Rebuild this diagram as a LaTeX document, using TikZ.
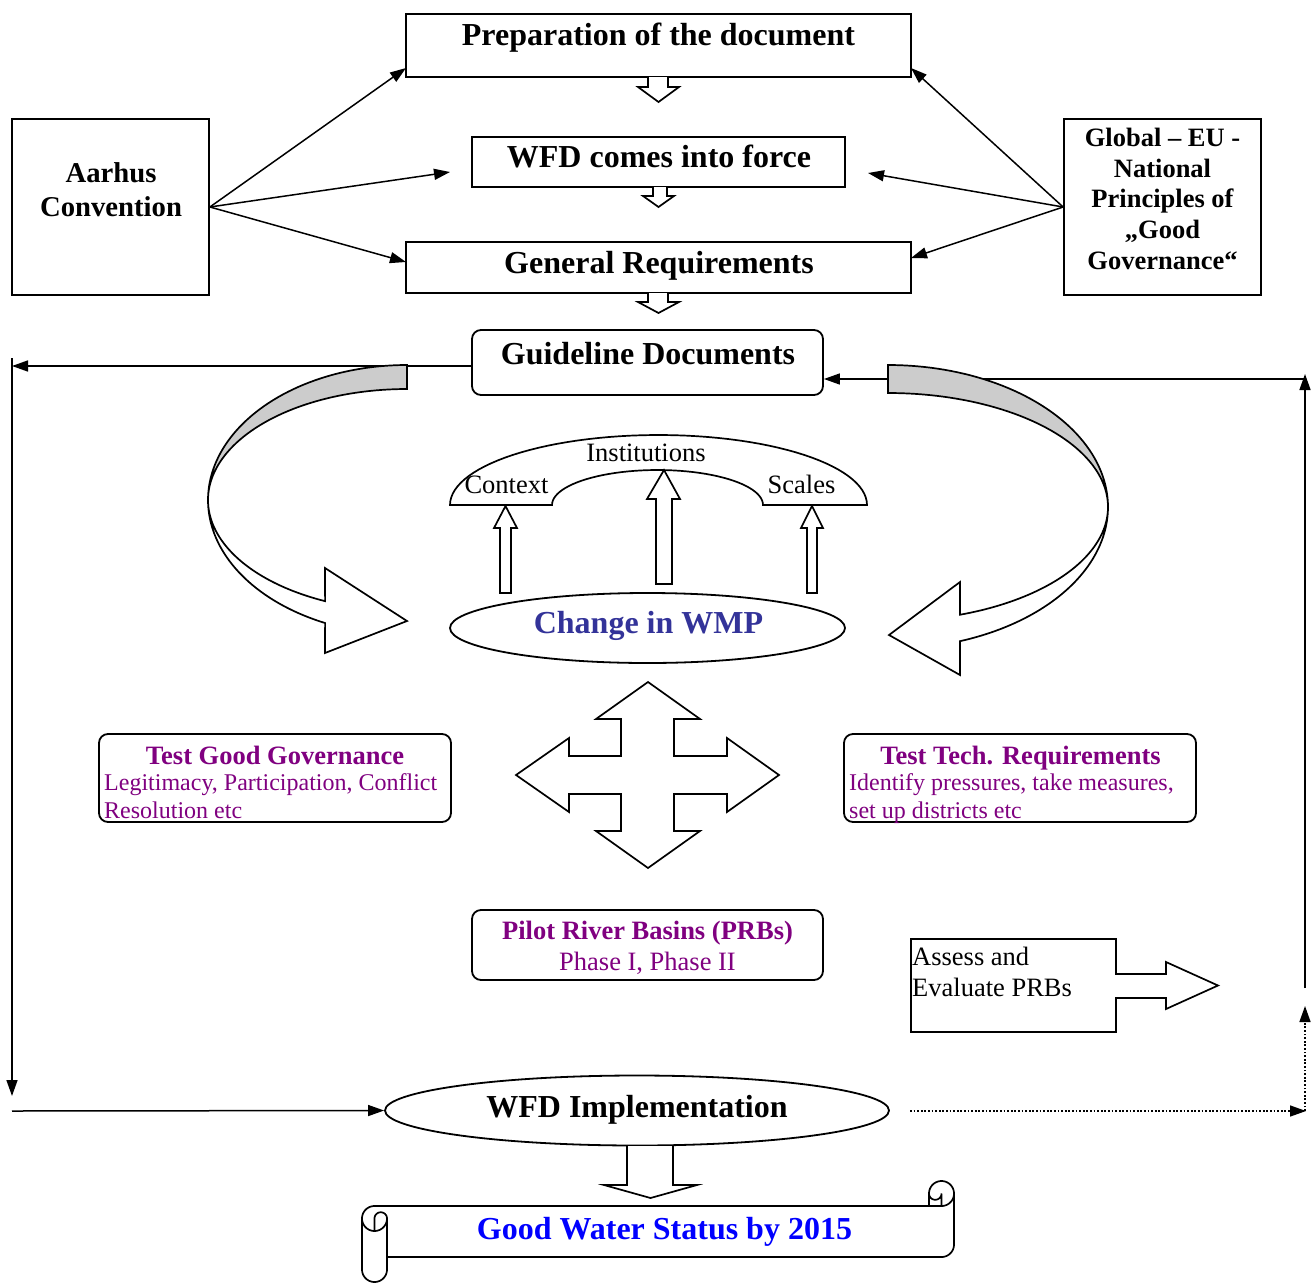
\documentclass[tikz,border=0pt]{standalone}
\usepackage{fontspec}
\setmainfont{Liberation Serif}
\usetikzlibrary{arrows.meta,shapes.geometric}
\definecolor{pur}{RGB}{128,0,128}
\definecolor{wmpblue}{RGB}{51,51,153}
\definecolor{gwblue}{RGB}{0,0,255}
\definecolor{bandgray}{RGB}{204,204,204}
\newcommand\fXL{\fontsize{32}{38}\selectfont\bfseries}
\newcommand\fAa{\fontsize{28.7}{34}\selectfont\bfseries}
\newcommand\fMB{\fontsize{26.5}{31}\selectfont\bfseries}
\newcommand\fMR{\fontsize{26.5}{31}\selectfont}
\newcommand\fSR{\fontsize{24}{28}\selectfont}
\tikzset{
  box/.style={draw, line width=1.8pt, rectangle, inner sep=0pt, fill=white},
  rbox/.style={box, rounded corners=9pt},
  oval/.style={draw, line width=1.8pt, ellipse, inner sep=0pt, fill=white},
  txt/.style={anchor=base, inner sep=0pt},
  ltxt/.style={anchor=base west, inner sep=0pt},
  arr/.style={line width=1.5pt, -{Triangle[length=16pt,width=11pt]}},
  dotarr/.style={arr, dash pattern=on 1.8pt off 1.8pt},
  blk/.style={draw, line width=1.7pt, fill=white, line join=miter},
  parc/.style n args={5}{insert path={-- plot[domain=#4:#5,samples=24,variable=\t] ({#1+#3*cos(\t)},{#2+#3*sin(\t)})}},
}
\begin{document}
\begin{tikzpicture}[x=1pt,y=-1pt]
\useasboundingbox (0,0) rectangle (1314,1282);

% ---------- main boxes ----------
\node[box, minimum width=505pt, minimum height=63pt] (prep) at (658.5,45.5) {};
\node[txt] (prept) at (658.5,45) {\fXL Preparation of the document};
\node[box, minimum width=373pt, minimum height=50pt] (wfd) at (658.5,162) {};
\node[txt] (wfdt) at (659,167) {\fXL WFD comes into force};
\node[box, minimum width=505pt, minimum height=51pt] (gen) at (658.5,267.5) {};
\node[txt] (gent) at (659,273) {\fXL General Requirements};
\node[rbox, minimum width=351pt, minimum height=65pt] (guide) at (647.5,362.5) {};
\node[txt] (guidet) at (648,364) {\fXL Guideline Documents};

\node[box, minimum width=197pt, minimum height=176pt] (aar) at (110.5,207) {};
\node[txt] (aart1) at (111,182) {\fAa Aarhus};
\node[txt] (aart2) at (111,216) {\fAa Convention};

\node[box, minimum width=197pt, minimum height=176pt] (glob) at (1162.5,207) {};
\node[txt] (g1) at (1162.5,146) {\fMB Global – EU -};
\node[txt] (g2) at (1162.5,177) {\fMB National};
\node[txt] (g3) at (1162.5,207) {\fMB Principles of};
\node[txt] (g4) at (1162.5,238) {\fMB „Good};
\node[txt] (g5) at (1162.5,269) {\fMB Governance“};

% ---------- feedback lines ----------
\coordinate (lt) at (12,366);
\coordinate (ltop) at (12,358);
\coordinate (lbot) at (12,1096);
\coordinate (lb) at (12,1111);
\coordinate (rb) at (1305,988);
\coordinate (rt) at (1305,374);
\coordinate (rh) at (1305,379);
\coordinate (dl) at (910,1111);
\coordinate (dr) at (1306,1111);
\coordinate (dc) at (1305,1111);
\coordinate (du) at (1305,1006);

\node[oval, minimum width=504pt, minimum height=70pt] (impl) at (637,1110.5) {};
\node[txt] (implt) at (637,1117) {\fXL WFD Implementation};

\draw[arr] ([yshift=-3.5pt]guide.west) -- (lt);
\draw[arr] (ltop) -- (lbot);
\draw[arr] (lb) -- (impl.west);
\draw[arr] (rb) -- (rt);
\draw[arr] (rh) -- ([yshift=-16.5pt]guide.east);
\draw[dotarr] (dl) -- (dr);
\draw[dotarr] (dc) -- (du);

% ---------- curved arrows ----------
\path[blk, fill=bandgray] plot[domain=270:180,samples=50,variable=\t] ({407+199*cos(\t)},{500+135*sin(\t)})
  -- plot[domain=180:270,samples=50,variable=\t] ({407+199*cos(\t)},{500+111*sin(\t)}) -- cycle;
\path[blk] plot[domain=180:114.3,samples=50,variable=\t] ({407+199*cos(\t)},{500+135*sin(\t)})
  -- (325,653) -- (407,621) -- (325,568)
  -- plot[domain=114.3:180,samples=50,variable=\t] ({407+199*cos(\t)},{500+111*sin(\t)}) -- cycle;

\path[blk, fill=bandgray] plot[domain=270:360,samples=50,variable=\t] ({888+220*cos(\t)},{507+142*sin(\t)})
  -- plot[domain=360:270,samples=50,variable=\t] ({888+220*cos(\t)},{507+114*sin(\t)}) -- cycle;
\path[blk] plot[domain=0:70.9,samples=50,variable=\t] ({888+220*cos(\t)},{507+142*sin(\t)})
  -- (960,675) -- (889,635) -- (960,582)
  -- plot[domain=70.9:0,samples=50,variable=\t] ({888+220*cos(\t)},{507+114*sin(\t)}) -- cycle;

% ---------- arch ----------
\path[blk] (450,505) -- plot[domain=180:360,samples=60,variable=\t] ({658.5+208.5*cos(\t)},{505+70*sin(\t)})
  -- (763,505) -- plot[domain=360:180,samples=50,variable=\t] ({657.5+105.5*cos(\t)},{505+35*sin(\t)}) -- cycle;
\node[txt] (inst) at (646,461) {\fMR Institutions};
\node[txt] (ctx) at (506.5,493) {\fMR Context};
\node[txt] (scl) at (801.5,493) {\fMR Scales};

\path[blk] (500,593) -- (500,528) -- (494,528) -- (505.5,506) -- (517,528) -- (511,528) -- (511,593) -- cycle;
\path[blk] (656,584) -- (656,499) -- (647,499) -- (664,470) -- (680,499) -- (672,499) -- (672,584) -- cycle;
\path[blk] (807,593) -- (807,528) -- (801,528) -- (812,506) -- (823,528) -- (817,528) -- (817,593) -- cycle;

\node[oval, minimum width=395pt, minimum height=70pt] (wmp) at (647.5,628) {};
\node[txt, text=wmpblue] (wmpt) at (648.5,633) {\fXL Change in WMP};

% ---------- four-way arrow ----------
\path[blk] (648,682) -- (700,719) -- (674,719) -- (674,756) -- (727,756) -- (727,738) -- (779,775)
  -- (727,812) -- (727,794) -- (674,794) -- (674,831) -- (700,831) -- (648,868) -- (596,831)
  -- (621,831) -- (621,794) -- (569,794) -- (569,812) -- (516,775) -- (569,738) -- (569,756)
  -- (621,756) -- (621,719) -- (596,719) -- cycle;

% ---------- test boxes ----------
\node[rbox, minimum width=352pt, minimum height=88pt] (tgg) at (275,778) {};
\node[txt, text=pur] (tggt) at (275,764) {\fMB Test Good Governance};
\node[ltxt, text=pur] (tgg1) at (104,790) {\fSR Legitimacy, Participation, Conflict};
\node[ltxt, text=pur] (tgg2) at (104,818) {\fSR Resolution etc};

\node[rbox, minimum width=352pt, minimum height=88pt] (ttr) at (1020,778) {};
\node[txt, text=pur] (ttrt) at (1020.5,764) {\fMB Test Tech. Requirements};
\node[ltxt, text=pur] (ttr1) at (849,790) {\fSR Identify pressures, take measures,};
\node[ltxt, text=pur] (ttr2) at (849,818) {\fSR set up districts etc};

% ---------- pilot ----------
\node[rbox, minimum width=351pt, minimum height=70pt] (prb) at (647.5,945) {};
\node[txt, text=pur] (prbt) at (647.5,939) {\fMB Pilot River Basins (PRBs)};
\node[txt, text=pur] (prb2) at (647.5,970) {\fMR Phase I, Phase II};

% ---------- assess ----------
\path[blk] (911,939) -- (1116,939) -- (1116,974) -- (1166,974) -- (1166,962) -- (1218,985.5)
  -- (1166,1009) -- (1166,998) -- (1116,998) -- (1116,1032) -- (911,1032) -- cycle;
\node[ltxt] (as1) at (912,965) {\fMR Assess and};
\node[ltxt] (as2) at (912,996) {\fMR Evaluate PRBs};

% ---------- top connectors ----------
\coordinate (pl) at (406,68);
\coordinate (wl) at (450,172);
\coordinate (gl) at (406,262);
\coordinate (pr) at (911,68);
\coordinate (wr) at (868,173);
\coordinate (gr) at (911,258);
\draw[arr] (aar.east) -- (pl);
\draw[arr] (aar.east) -- (wl);
\draw[arr] (aar.east) -- (gl);
\draw[arr] (glob.west) -- (pr);
\draw[arr] (glob.west) -- (wr);
\draw[arr] (glob.west) -- (gr);

% ---------- small block arrows ----------
\path[blk] (648,77) -- (648,87) -- (638,87) -- (658.5,102) -- (679,87) -- (668,87) -- (668,77);
\path[blk] (653,187) -- (653,196) -- (643,196) -- (658.5,207) -- (674,196) -- (667,196) -- (667,187);
\path[blk] (648,293) -- (648,302) -- (638,302) -- (658.5,313) -- (679,302) -- (668,302) -- (668,293);
\path[blk] (627,1146) -- (627,1185) -- (604,1185) -- (650.5,1198) -- (697,1185) -- (673,1185) -- (673,1146);

% ---------- scroll ----------
\path[blk] (362,1218.5) [parc={374.5}{1218.5}{12.5}{180}{270}] -- (929,1206) -- (929,1193.5)
  [parc={941.5}{1193.5}{12.5}{180}{360}] -- (954,1244.5) [parc={941.5}{1244.5}{12.5}{0}{90}]
  -- (387,1257) -- (387,1269.5) [parc={374.5}{1269.5}{12.5}{0}{180}] -- cycle;
\draw[line width=1.7pt] (929,1206) -- (941.5,1206) [parc={941.5}{1193.5}{12.5}{90}{0}];
\draw[line width=1.7pt] (941.5,1206) -- (941.5,1193.5) [parc={935.25}{1193.5}{6.25}{0}{180}];
\draw[line width=1.7pt] (374.5,1231) -- (374.5,1218.5) [parc={380.75}{1218.5}{6.25}{180}{360}] [parc={374.5}{1218.5}{12.5}{0}{180}];
\draw[line width=1.7pt] (387,1218.5) -- (387,1257);
\node[txt, text=gwblue] (gws) at (664.5,1239) {\fXL Good Water Status by 2015};

\end{tikzpicture}
\end{document}
